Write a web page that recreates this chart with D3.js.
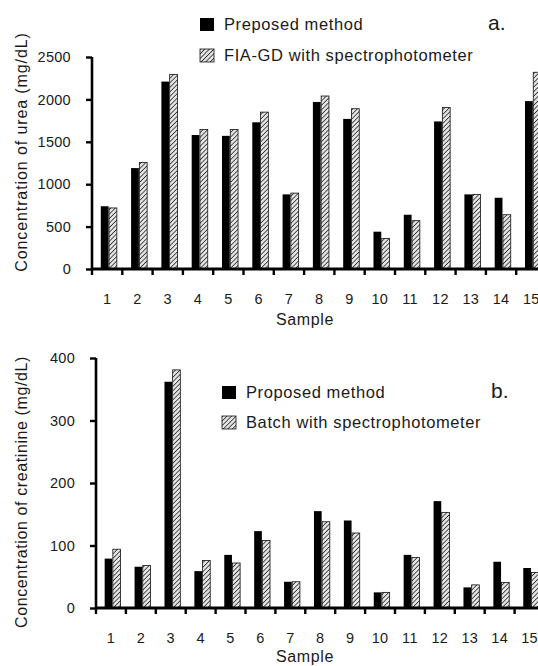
<!DOCTYPE html>
<html><head><meta charset="utf-8">
<script src="https://cdn.jsdelivr.net/npm/d3@7"></script>
<style>
body{margin:0;background:#fff}
svg{display:block}
text{font-family:"Liberation Sans",Arial,sans-serif;fill:#1a1a1a}
</style>
</head><body>
<svg id="c" width="538" height="666"></svg>
<script>
const samples = ["1","2","3","4","5","6","7","8","9","10","11","12","13","14","15"];
const ureaProposed = [740,1190,2210,1580,1570,1730,880,1970,1770,440,640,1740,880,840,1980];
const ureaFIA      = [720,1255,2295,1645,1645,1850,895,2040,1890,360,570,1905,880,640,2320];
const ureaTicks = [0,500,1000,1500,2000,2500];
const creatProposed = [79,66,362,59,85,123,42,155,140,25,85,171,33,74,64];
const creatBatch    = [94,68,381,76,72,108,42,138,120,25,81,153,37,41,57];
const creatTicks = [0,100,200,300,400];

const FONT = '"Liberation Sans",Arial,sans-serif';
const svg = d3.select("#c");
const defs = svg.append("defs");
const pat = defs.append("pattern").attr("id","hatch").attr("patternUnits","userSpaceOnUse")
  .attr("width",3.2).attr("height",3.2).attr("patternTransform","rotate(45)");
pat.append("rect").attr("width",3.2).attr("height",3.2).attr("fill","#e4e4e4");
pat.append("line").attr("x1",0).attr("y1",0).attr("x2",0).attr("y2",3.2)
  .attr("stroke","#222").attr("stroke-width",1.5);

function panel(o){
  const g = svg.append("g");
  const x0 = d3.scaleBand().domain(samples).range([o.left, o.left + o.band*samples.length]).padding(0);
  const x1 = d3.scaleBand().domain(["a","b"]).range([o.band*0.29, o.band*0.82]).paddingInner(0.06);
  const y = d3.scaleLinear().domain([0,o.max]).range([o.y0,o.yTop]);
  const rows = samples.map((s,i)=>({s, a:o.a[i], b:o.b[i]}));
  const grp = g.selectAll("g.s").data(rows).join("g").attr("class","s").attr("transform",d=>`translate(${x0(d.s)},0)`);
  grp.append("rect").attr("x",x1("a")).attr("width",x1.bandwidth())
    .attr("y",d=>y(d.a)).attr("height",d=>y(0)-y(d.a)).attr("fill","#000");
  grp.append("rect").attr("x",x1("b")).attr("width",x1.bandwidth())
    .attr("y",d=>y(d.b)).attr("height",d=>y(0)-y(d.b)).attr("fill","url(#hatch)")
    .attr("stroke","#111").attr("stroke-width",0.8);
  // y axis
  const ya = g.append("g").attr("transform",`translate(${o.left},0)`)
    .call(d3.axisLeft(y).tickValues(o.ticks).tickFormat(d3.format("d")).tickSize(6).tickPadding(15));
  ya.select(".domain").attr("stroke","#000").attr("stroke-width",2.6).attr("d",`M0,${y(0)}V${o.yTop}`);
  ya.selectAll(".tick line").attr("stroke","#000").attr("stroke-width",2.4);
  ya.selectAll(".tick text").attr("font-size",14.5).attr("letter-spacing",0.3)
    .attr("font-family",FONT).attr("fill","#1a1a1a");
  // x axis
  const xa = g.append("g").attr("transform",`translate(0,${y(0)})`);
  xa.append("line").attr("x1",o.left).attr("x2",538).attr("stroke","#000").attr("stroke-width",3);
  xa.selectAll("line.t").data(samples).join("line").attr("class","t")
    .attr("x1",d=>x0(d)).attr("x2",d=>x0(d)).attr("y1",0).attr("y2",6)
    .attr("stroke","#000").attr("stroke-width",2.4);
  xa.selectAll("text.xl").data(samples).join("text").attr("class","xl")
    .attr("x",d=>x0(d)+x0.bandwidth()/2).attr("y",35).attr("text-anchor","middle")
    .attr("font-size",14.5).attr("letter-spacing",0.3).text(d=>d);
  g.append("text").attr("x",305).attr("y",o.sampleY).attr("text-anchor","middle")
    .attr("font-size",16).attr("letter-spacing",0.6).text("Sample");
  g.append("text").attr("transform",`translate(${o.titleX},${o.titleY}) rotate(-90)`)
    .attr("text-anchor","middle").attr("font-size",16).attr("letter-spacing",o.titleLS).text(o.title);
  // legend
  const lg = g.append("g");
  lg.append("rect").attr("x",o.lx).attr("y",o.ly).attr("width",14).attr("height",13).attr("fill","#000");
  lg.append("text").attr("x",o.lx+o.tdx).attr("y",o.ly+12).attr("font-size",16.5).attr("letter-spacing",0.6).text(o.la);
  lg.append("rect").attr("x",o.lx).attr("y",o.ly+o.gap).attr("width",14).attr("height",13)
    .attr("fill","url(#hatch)").attr("stroke","#111").attr("stroke-width",0.8);
  lg.append("text").attr("x",o.lx+o.tdx).attr("y",o.ly+o.gap+12).attr("font-size",16.5).attr("letter-spacing",0.6).text(o.lb);
  g.append("text").attr("x",o.tagX).attr("y",o.tagY).attr("font-size",21).text(o.tag);
}

panel({left:92, band:30.3, y0:269, yTop:57, max:2500, ticks:ureaTicks, a:ureaProposed, b:ureaFIA,
  sampleY:325, title:"Concentration of urea (mg/dL)", titleX:27, titleY:152, titleLS:0.9,
  lx:200, ly:18, gap:31, tdx:24, la:"Preposed method", lb:"FIA-GD with spectrophotometer", tag:"a.", tagX:488, tagY:30});
panel({left:96, band:29.9, y0:608, yTop:358, max:400, ticks:creatTicks, a:creatProposed, b:creatBatch,
  sampleY:662, title:"Concentration of creatinine (mg/dL)", titleX:27, titleY:492, titleLS:0.6,
  lx:222, ly:386, gap:30, tdx:24, la:"Proposed method", lb:"Batch with spectrophotometer", tag:"b.", tagX:491, tagY:398});
</script>
</body></html>
